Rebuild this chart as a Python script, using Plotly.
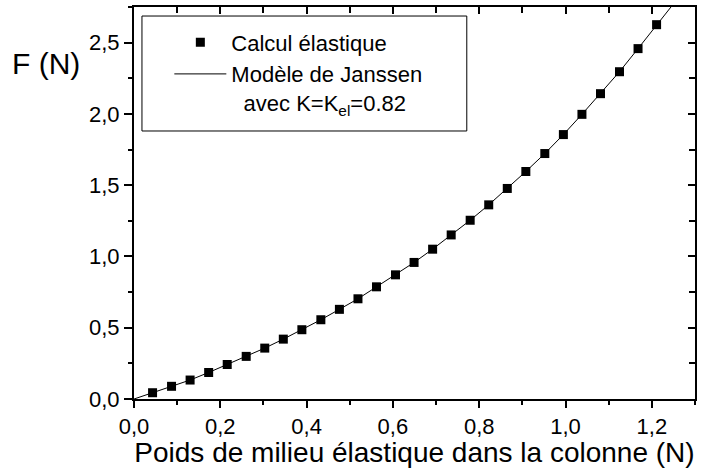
import plotly.graph_objects as go

# Data
calc_x = [0.043, 0.087, 0.130, 0.173, 0.216, 0.260, 0.303, 0.346, 0.389, 0.433,
          0.476, 0.519, 0.562, 0.606, 0.649, 0.692, 0.735, 0.779, 0.822, 0.865,
          0.908, 0.952, 0.995, 1.038, 1.081, 1.125, 1.168, 1.211]
calc_y = [0.044, 0.089, 0.133, 0.186, 0.242, 0.299, 0.357, 0.420, 0.486, 0.556,
          0.629, 0.703, 0.787, 0.871, 0.958, 1.051, 1.151, 1.254, 1.362, 1.477,
          1.596, 1.722, 1.855, 1.997, 2.142, 2.296, 2.458, 2.626]

janssen_x = [0.0, 0.043, 0.087, 0.130, 0.173, 0.216, 0.260, 0.303, 0.346, 0.389, 0.433,
             0.476, 0.519, 0.562, 0.606, 0.649, 0.692, 0.735, 0.779, 0.822, 0.865,
             0.908, 0.952, 0.995, 1.038, 1.081, 1.125, 1.168, 1.211, 1.26]
janssen_y = [0.0, 0.044, 0.089, 0.133, 0.186, 0.242, 0.299, 0.357, 0.420, 0.486, 0.556,
             0.629, 0.703, 0.787, 0.871, 0.958, 1.051, 1.151, 1.254, 1.362, 1.477,
             1.596, 1.722, 1.855, 1.997, 2.142, 2.296, 2.458, 2.626, 2.81]

x_range = [0, 1.3]
y_range = [0, 2.75]

FONT = "Liberation Sans, Arial, sans-serif"

fig = go.Figure()
fig.add_trace(go.Scatter(
    x=calc_x, y=calc_y, mode="markers", name="Calcul élastique",
    marker=dict(symbol="square", size=9, color="black"),
))
fig.add_trace(go.Scatter(
    x=janssen_x, y=janssen_y, mode="lines",
    name="Modèle de Janssen<br>\u00a0\u00a0avec K=K<sub>el</sub>=0.82",
    line=dict(color="black", width=1),
))
# invisible trace for mirrored (inward-tick) axes
fig.add_trace(go.Scatter(
    x=calc_x, y=calc_y, mode="markers", xaxis="x2", yaxis="y2",
    marker=dict(opacity=0), showlegend=False, hoverinfo="skip",
))

common = dict(showgrid=False, zeroline=False, color="black",
              tickfont=dict(family=FONT, size=22, color="black"))

fig.update_layout(
    width=701, height=468,
    margin=dict(l=134, r=4, t=7, b=69),
    paper_bgcolor="white", plot_bgcolor="white",
    separators=", ",
    font=dict(family=FONT, color="black"),
    xaxis=dict(range=x_range, dtick=0.2, tick0=0, tickformat=".1f",
               ticks="outside", ticklen=7, tickwidth=1.5,
               showline=True, linewidth=2, linecolor="black", mirror=True,
               minor=dict(dtick=0.1, ticks="outside", ticklen=4, tickwidth=1.5, tickcolor="black"),
               title=dict(text="Poids de milieu élastique dans la colonne (N)",
                          font=dict(family=FONT, size=28, color="black"), standoff=1),
               **common),
    yaxis=dict(range=y_range, dtick=0.5, tick0=0, tickformat=".1f",
               ticks="outside", ticklen=8, tickwidth=1.5,
               showline=True, linewidth=2, linecolor="black", mirror=True,
               minor=dict(dtick=0.25, ticks="outside", ticklen=4, tickwidth=1.5, tickcolor="black"),
               **common),
    xaxis2=dict(range=x_range, overlaying="x", side="top", anchor="y",
                dtick=0.2, tick0=0, ticks="inside", ticklen=7, tickwidth=1.5,
                showticklabels=False, showline=False, showgrid=False, zeroline=False,
                minor=dict(dtick=0.1, ticks="inside", ticklen=6, tickwidth=1.5, tickcolor="black"),
                tickcolor="black"),
    yaxis2=dict(range=y_range, overlaying="y", side="right", anchor="x",
                dtick=0.5, tick0=0, ticks="inside", ticklen=7, tickwidth=1.5,
                showticklabels=False, showline=False, showgrid=False, zeroline=False,
                minor=dict(dtick=0.25, ticks="inside", ticklen=6, tickwidth=1.5, tickcolor="black"),
                tickcolor="black"),
    legend=dict(x=0.063, y=0.963, xanchor="left", yanchor="top",
                bgcolor="rgba(0,0,0,0)", borderwidth=0,
                font=dict(family=FONT, size=22, color="black"),
                itemwidth=52, valign="top", tracegroupgap=0),
    shapes=[dict(type="rect", xref="paper", yref="paper",
                 x0=0.0142, x1=0.5932, y0=0.6837, y1=0.977,
                 line=dict(color="black", width=1), fillcolor="white", layer="below")],
    annotations=[dict(text="F (N)", xref="paper", yref="paper", x=-0.221, y=0.855,
                      xanchor="left", yanchor="middle", showarrow=False,
                      font=dict(family=FONT, size=30, color="black"))],
)

fig.write_html("out.html", config={"displayModeBar": False},
               post_script="document.body.style.margin='0';document.body.style.overflow='hidden';")
